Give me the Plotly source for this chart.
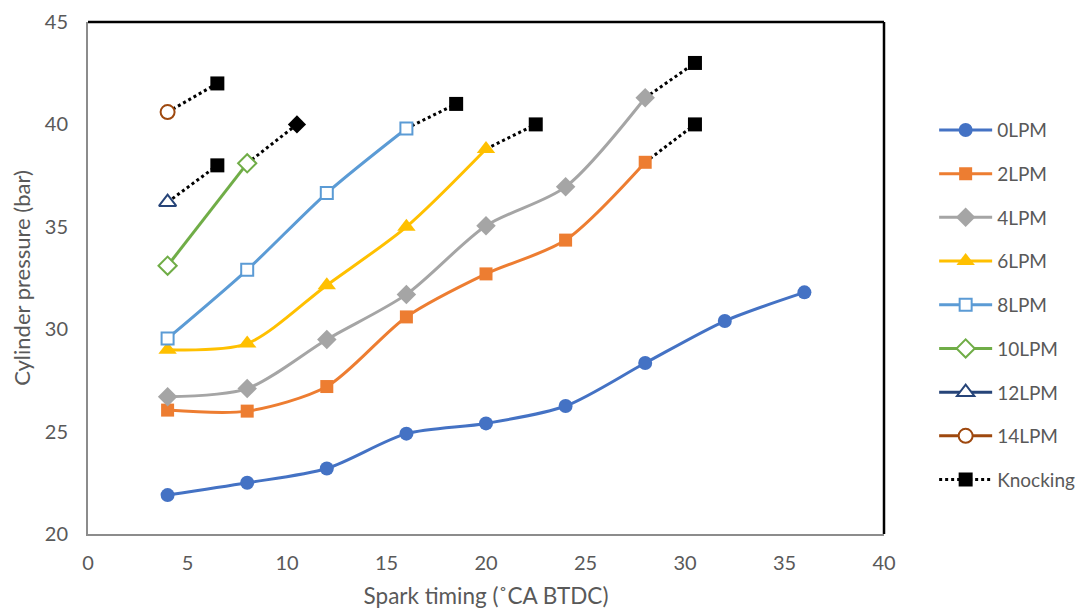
import plotly.graph_objects as go

# ---- data ----
lpm0_x = [4, 8, 12, 16, 20, 24, 28, 32, 36]
lpm0_y = [21.9, 22.5, 23.2, 24.9, 25.4, 26.25, 28.35, 30.4, 31.8]
lpm2_x = [4, 8, 12, 16, 20, 24, 28]
lpm2_y = [26.05, 26.0, 27.2, 30.6, 32.7, 34.35, 38.15]
lpm4_x = [4, 8, 12, 16, 20, 24, 28]
lpm4_y = [26.7, 27.1, 29.5, 31.7, 35.05, 36.95, 41.3]
lpm6_x = [4, 8, 12, 16, 20]
lpm6_y = [29.0, 29.3, 32.15, 35.0, 38.8]
lpm8_x = [4, 8, 12, 16]
lpm8_y = [29.55, 32.9, 36.65, 39.8]
lpm10_x = [4, 8]
lpm10_y = [33.1, 38.1]
lpm12_x = [4]
lpm12_y = [36.2]
lpm14_x = [4]
lpm14_y = [40.6]

# knocking points (end of each series)
knock_x = [30.5, 30.5, 22.5, 18.5, 10.5, 6.5, 6.5]
knock_y = [40.0, 43.0, 40.0, 41.0, 40.0, 38.0, 42.0]
knock_symbol = ["square", "square", "square", "square", "diamond", "square", "square"]
knock_from = ["2LPM", "4LPM", "6LPM", "8LPM", "10LPM", "12LPM", "14LPM"]

series = [
    ("0LPM", lpm0_x, lpm0_y, "#4472C4", "circle", False),
    ("2LPM", lpm2_x, lpm2_y, "#ED7D31", "square", False),
    ("4LPM", lpm4_x, lpm4_y, "#A5A5A5", "diamond", False),
    ("6LPM", lpm6_x, lpm6_y, "#FFC000", "triangle-up", False),
    ("8LPM", lpm8_x, lpm8_y, "#5B9BD5", "square", True),
    ("10LPM", lpm10_x, lpm10_y, "#70AD47", "diamond", True),
    ("12LPM", lpm12_x, lpm12_y, "#264478", "triangle-up", True),
    ("14LPM", lpm14_x, lpm14_y, "#9E480E", "circle", True),
]
marker_sizes = {"circle": 14, "square": 13, "diamond": 15, "triangle-up": 16}

FONT = "Lato, 'Open Sans', sans-serif"
TXT = "#595959"

fig = go.Figure()

ends = {}
for name, xs, ys, col, sym, hollow in series:
    ends[name] = (xs[-1], ys[-1])

# knocking dotted segments (drawn first, beneath the series markers)
for kx, ky, src in zip(knock_x, knock_y, knock_from):
    sx, sy = ends[src]
    fig.add_trace(go.Scatter(
        x=[sx, kx], y=[sy, ky], mode="lines",
        line=dict(color="black", width=3, dash="dot"),
        showlegend=False, hoverinfo="skip",
    ))

for name, xs, ys, col, sym, hollow in series:
    size = marker_sizes[sym] - (1 if hollow and sym != "circle" else 0)
    fig.add_trace(go.Scatter(
        x=xs, y=ys, name=name, legendgroup=name,
        mode="lines+markers",
        line=dict(color=col, width=3, shape="spline", smoothing=0.8),
        marker=dict(symbol=sym, size=size,
                    color="white" if hollow else col,
                    line=dict(color=col, width=2 if hollow else 0)),
    ))

for kx, ky, ks in zip(knock_x, knock_y, knock_symbol):
    fig.add_trace(go.Scatter(
        x=[kx], y=[ky], mode="markers",
        marker=dict(symbol=ks, size=14 if ks == "square" else 14, color="black"),
        showlegend=False,
    ))
# legend entry for knocking
fig.add_trace(go.Scatter(
    x=[None], y=[None], name="Knocking", legendgroup="Knocking",
    mode="lines+markers",
    line=dict(color="black", width=3, dash="dot"),
    marker=dict(symbol="square", size=14, color="black"),
))

fig.update_layout(
    width=1084, height=602,
    margin=dict(l=80, r=206, t=14, b=76),
    paper_bgcolor="white", plot_bgcolor="white",
    font=dict(family=FONT, size=20, color=TXT),
    showlegend=True,
    legend=dict(x=1.063, y=0.826, xanchor="left", yanchor="top",
                font=dict(size=19, color=TXT), tracegroupgap=16,
                itemwidth=53, bgcolor="rgba(0,0,0,0)"),
    xaxis=dict(range=[0, 40], dtick=5, tick0=0, showgrid=False, zeroline=False,
               showline=True, linecolor="#8C8C8C", linewidth=2, ticks="",
               automargin=False, ticklabelstandoff=10,
               tickfont=dict(size=20, color=TXT),
               title=dict(text="Spark timing (\u02DACA BTDC)", font=dict(size=22.5, color=TXT), standoff=15)),
    yaxis=dict(range=[20, 45], dtick=5, tick0=20, showgrid=False, zeroline=False,
               showline=True, linecolor="#8C8C8C", linewidth=2, ticks="",
               automargin=False, ticklabelstandoff=14,
               tickfont=dict(size=20, color=TXT),
               title=dict(text="Cylinder pressure (bar)", font=dict(size=22, color=TXT), standoff=12)),
    shapes=[
        dict(type="line", xref="paper", yref="paper", x0=0, x1=1, y0=1, y1=1,
             line=dict(color="black", width=2.5)),
        dict(type="line", xref="paper", yref="paper", x0=1, x1=1, y0=0, y1=1,
             line=dict(color="black", width=2.5)),
    ],
)

fig.write_html("out.html")
